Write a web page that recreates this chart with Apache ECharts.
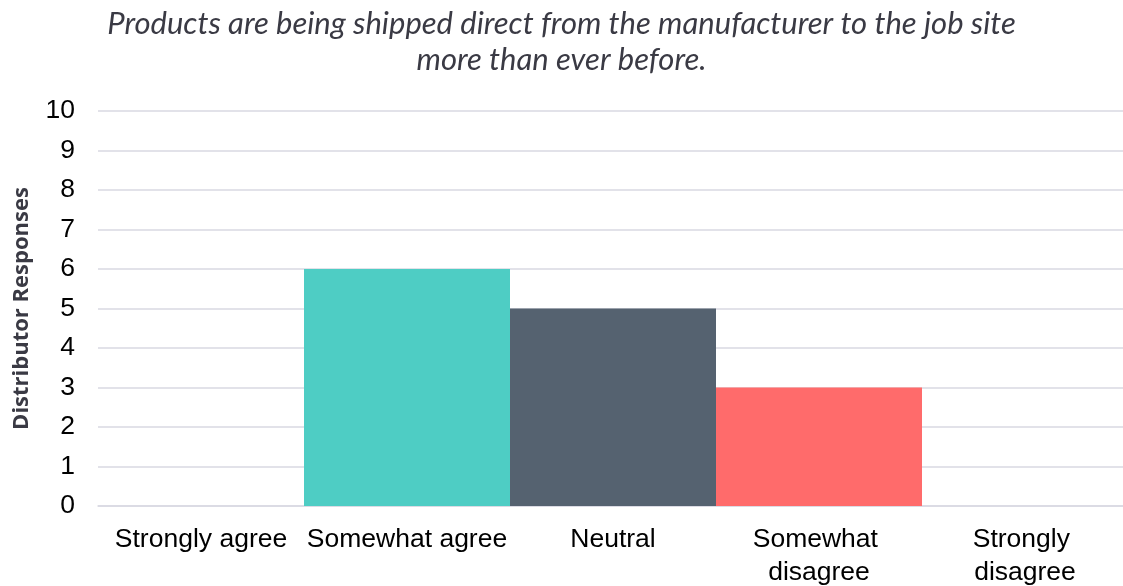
<!DOCTYPE html>
<html>
<head>
<meta charset="utf-8">
<script src="https://cdn.jsdelivr.net/npm/echarts@6/dist/echarts.min.js"></script>
<style>
  html, body { margin: 0; padding: 0; background: #ffffff; }
  #chart { width: 1123px; height: 586px; }
</style>
</head>
<body>
<div id="chart"></div>
<script>
// Survey answers on the x axis
const categories = ['Strongly agree', 'Somewhat agree', 'Neutral', 'Somewhat disagree', 'Strongly disagree'];
// Number of distributors giving each answer
const responses = [0, 6, 5, 3, 0];
// One fill per answer
const barColors = ['#4ECDC4', '#4ECDC4', '#556270', '#FF6B6B', '#C7F464'];
// Value axis ticks
const yTicks = [0, 1, 2, 3, 4, 5, 6, 7, 8, 9, 10];

const chart = echarts.init(document.getElementById('chart'), null, { renderer: 'canvas' });

chart.setOption({
  backgroundColor: '#ffffff',
  animation: false,
  title: {
    text: 'Products are being shipped direct from the manufacturer to the job site\nmore than ever before.',
    left: 'center',
    top: 1,
    textStyle: {
      fontFamily: 'Lato',
      fontStyle: 'italic',
      fontWeight: 'normal',
      fontSize: 31,
      lineHeight: 36,
      color: '#3a3a44'
    }
  },
  grid: {
    left: 98,
    top: 111,
    width: 1030,
    height: 395,
    containLabel: false,
    outerBoundsMode: 'none'
  },
  xAxis: {
    type: 'category',
    data: categories,
    axisLine: { show: true, lineStyle: { color: '#d9d9e2', width: 1.5 } },
    axisTick: { show: false },
    axisLabel: {
      interval: 0,
      margin: 17,
      width: 203,
      overflow: 'break',
      fontFamily: 'Liberation Sans',
      fontSize: 26.5,
      lineHeight: 33,
      color: '#000000',
      align: 'center'
    }
  },
  yAxis: {
    type: 'value',
    min: yTicks[0],
    max: yTicks[yTicks.length - 1],
    interval: 1,
    name: 'Distributor Responses',
    nameLocation: 'middle',
    nameGap: 65,
    nameRotate: 90,
    nameTextStyle: {
      fontFamily: 'Open Sans',
      fontWeight: 'bold',
      fontSize: 22,
      color: '#3a3a44'
    },
    axisLine: { show: false },
    axisTick: { show: false },
    splitLine: { show: true, lineStyle: { color: '#d9d9e2', width: 1.5 } },
    axisLabel: {
      margin: 23,
      fontFamily: 'Liberation Sans',
      fontSize: 26.5,
      color: '#000000'
    }
  },
  series: [{
    type: 'bar',
    barCategoryGap: '0%',
    data: responses.map((v, i) => ({ value: v, itemStyle: { color: barColors[i] } })),
    emphasis: { disabled: true }
  }]
});
</script>
</body>
</html>
